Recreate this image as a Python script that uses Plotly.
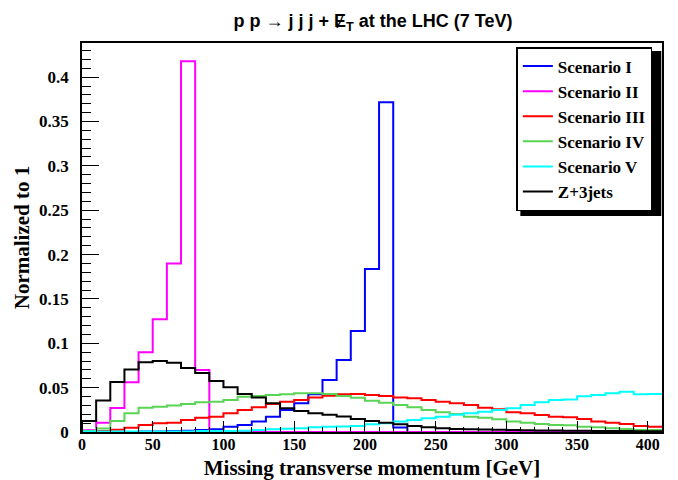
import numpy as np
import plotly.graph_objects as go

# ---- data (normalized histograms, 10 GeV bins from 0 to 410 GeV) ----
bin_edges = list(range(0, 420, 10))

scenario_I = [0, 0, 0, 0, 0.0005, 0.0005, 0.001, 0.0015, 0.0023, 0.003,
              0.006, 0.0079, 0.0117, 0.0173, 0.0248, 0.0323, 0.0425, 0.0586, 0.0812, 0.1139,
              0.1838, 0.3717, 0.005, 0, 0, 0, 0, 0, 0, 0,
              0, 0, 0, 0, 0, 0, 0, 0, 0, 0, 0]
scenario_II = [0.002, 0.0105, 0.027, 0.056, 0.090, 0.127, 0.190, 0.418, 0.070, 0,
               0, 0, 0, 0, 0, 0, 0, 0, 0, 0,
               0, 0, 0, 0, 0, 0, 0, 0, 0, 0,
               0, 0, 0, 0, 0, 0, 0, 0, 0, 0, 0]
scenario_III = [0.001, 0.001, 0.0026, 0.0049, 0.0079, 0.0098, 0.0105, 0.0135, 0.0162, 0.0173,
                0.021, 0.0248, 0.0278, 0.0316, 0.0342, 0.036, 0.039, 0.041, 0.0425, 0.0428,
                0.0417, 0.0406, 0.039, 0.038, 0.036, 0.0342, 0.0323, 0.0304, 0.0274, 0.0256,
                0.0222, 0.021, 0.0192, 0.0173, 0.0165, 0.0147, 0.0117, 0.0105, 0.009, 0.0068, 0.006]
scenario_IV = [0.001, 0.004, 0.0124, 0.021, 0.0274, 0.0286, 0.030, 0.0316, 0.0335, 0.0342,
               0.036, 0.0398, 0.0406, 0.0417, 0.0425, 0.0436, 0.0436, 0.0428, 0.0406, 0.0387,
               0.0353, 0.033, 0.0304, 0.0278, 0.0248, 0.0222, 0.0203, 0.0173, 0.0162, 0.0143,
               0.0117, 0.0105, 0.009, 0.0079, 0.0075, 0.006, 0.0053, 0.0041, 0.0034, 0.0023, 0.0023]
scenario_V = [0.0005, 0.0005, 0.0005, 0.0005, 0.0005, 0.0005, 0.0005, 0.0005, 0.001, 0.001,
              0.0012, 0.0015, 0.0023, 0.003, 0.0037, 0.0042, 0.0053, 0.006, 0.0062, 0.0068,
              0.0086, 0.0098, 0.0117, 0.0135, 0.0154, 0.0173, 0.0195, 0.021, 0.0229, 0.0248,
              0.0267, 0.0304, 0.0335, 0.036, 0.0366, 0.0402, 0.0417, 0.0436, 0.0455, 0.0425, 0.0428]
z_3jets = [0.0125, 0.0355, 0.0565, 0.0705, 0.0785, 0.080, 0.078, 0.0722, 0.0665, 0.0575,
           0.0504, 0.0428, 0.039, 0.0323, 0.0267, 0.0237, 0.021, 0.0195, 0.0175, 0.0147,
           0.0124, 0.0105, 0.0086, 0.0068, 0.0053, 0.0041, 0.0034, 0.003, 0.0027, 0.0025,
           0.0023, 0.002, 0.0018, 0.0016, 0.0015, 0.0013, 0.0012, 0.001, 0.001, 0.0009, 0.0008]

series_names = ["Scenario I", "Scenario II", "Scenario III", "Scenario IV", "Scenario V", "Z+3jets"]
series_values = [scenario_I, scenario_II, scenario_III, scenario_IV, scenario_V, z_3jets]
series_colors = ["#0000ff", "#ff00ff", "#ff0000", "#59d454", "#00ffff", "#000000"]

x_ticks = [0, 50, 100, 150, 200, 250, 300, 350, 400]
y_ticks = [0, 0.05, 0.1, 0.15, 0.2, 0.25, 0.3, 0.35, 0.4]
y_tick_labels = ["0", "0.05", "0.1", "0.15", "0.2", "0.25", "0.3", "0.35", "0.4"]

fig = go.Figure()
for name, vals, col in zip(series_names, series_values, series_colors):
    xs = [bin_edges[0]] + bin_edges
    ys = [0] + list(vals) + [vals[-1]]
    fig.add_trace(go.Scatter(
        x=xs, y=ys, mode="lines", name=name, legendgroup=name,
        line=dict(color=col, width=2, shape="hv"),
        hoverinfo="skip"))

serif = "Liberation Serif"
# page has an 8px body margin, so the figure is drawn 8px in from the window edge
W, H = 670, 472
ml, mr, mt, mb = 73.5, 16.3, 35, 48
pw = W - ml - mr
ph = H - mt - mb

# legend placement (paper coords)
lx, ly = (508 - ml) / pw, (H - mb - 39) / ph
leg_w, leg_h = 141, 165
sh = 4
fig.add_shape(type="rect", xref="paper", yref="paper",
              x0=lx + sh / pw, x1=lx + (leg_w + sh) / pw,
              y0=ly - (leg_h + sh) / ph, y1=ly - sh / ph,
              fillcolor="black", line=dict(width=0), layer="above")

fig.update_layout(
    width=W, height=H,
    margin=dict(l=ml, r=mr, t=mt, b=mb, pad=0, autoexpand=False),
    paper_bgcolor="white", plot_bgcolor="white",
    title=dict(text="p p \u2192 j j j + \u0246<sub>T</sub> at the LHC (7 TeV)",
               x=365 / W, xanchor="center", y=1 - 13 / H, yanchor="middle",
               font=dict(family="Liberation Sans", size=18, color="black", weight="bold")),
    showlegend=True,
    legend=dict(x=lx, y=ly, xanchor="left", yanchor="top",
                bgcolor="white", bordercolor="black", borderwidth=1.5,
                font=dict(family=serif, size=17, color="black", weight="bold"),
                tracegroupgap=0, itemwidth=30),
    xaxis=dict(range=[0, 410], tickvals=x_ticks, ticks="inside", ticklen=11, tickwidth=1,
               tickcolor="black", showgrid=False, zeroline=False, automargin=False,
               showline=True, linecolor="black", linewidth=1.5, mirror=True,
               minor=dict(dtick=10, ticks="inside", ticklen=5, tickcolor="black", showgrid=False),
               tickfont=dict(family=serif, size=16, color="black", weight="bold"),
               ticklabelstandoff=-3,
               title=dict(text="Missing transverse momentum [GeV]", standoff=17,
                          font=dict(family=serif, size=21, color="black", weight="bold"))),
    yaxis=dict(range=[0, 0.4385], tickvals=y_ticks, ticktext=y_tick_labels,
               ticks="inside", ticklen=17, tickwidth=1, automargin=False,
               tickcolor="black", showgrid=False, zeroline=False,
               showline=True, linecolor="black", linewidth=1.5, mirror=True,
               minor=dict(dtick=0.01, ticks="inside", ticklen=9, tickcolor="black", showgrid=False),
               tickfont=dict(family=serif, size=17, color="black", weight="bold"),
               ticklabelstandoff=8,
               title=dict(text="Normalized to 1", standoff=4,
                          font=dict(family=serif, size=21, color="black", weight="bold"))),
)

fig.write_html("out.html")
